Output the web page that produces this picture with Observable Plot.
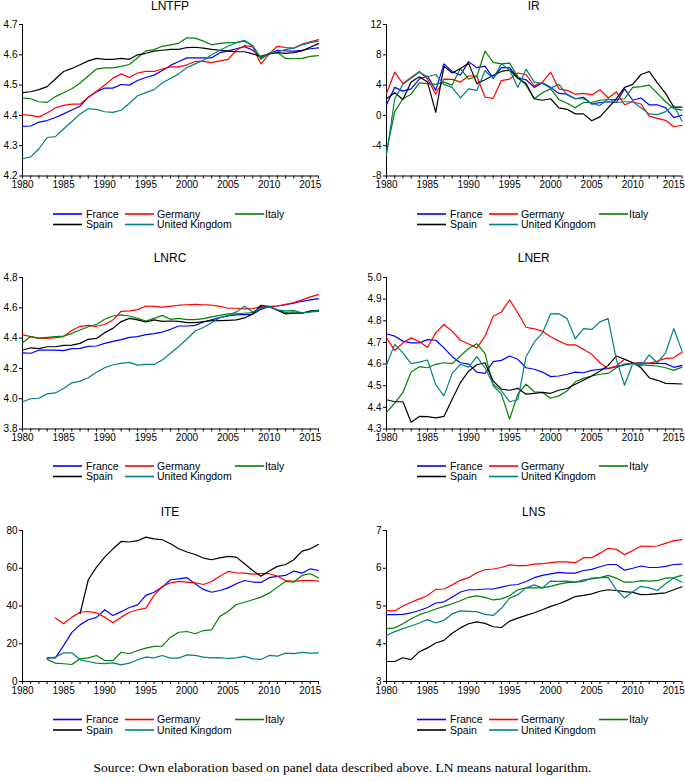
<!DOCTYPE html>
<html><head><meta charset="utf-8">
<script src="https://cdn.jsdelivr.net/npm/d3@7"></script>
<script src="https://cdn.jsdelivr.net/npm/@observablehq/plot@0.6"></script>
<style>
html,body{margin:0;padding:0;background:#fff;}
#root{position:relative;width:685px;height:782px;overflow:hidden;font-family:"Liberation Sans",Arial,sans-serif;color:#000;}
.title{position:absolute;font-size:12px;line-height:12px;text-align:center;width:200px;white-space:nowrap;}
.caption{position:absolute;left:0;width:685px;text-align:center;top:760px;font-family:"Liberation Serif","DejaVu Serif",serif;font-size:13.5px;line-height:16px;}
.panel{position:absolute;}
.panel svg{overflow:visible;}
#legend{position:absolute;left:0;top:0;}
</style></head><body><div id="root"></div><script>
const years = d3.range(1980, 2017);
const countries = ["France", "Germany", "Italy", "Spain", "United Kingdom"];
const colors = ["#0000ff", "#ff0000", "#008000", "#000000", "#008080"];

// LNTFP
const lntfpFrance  = [4.364,4.365,4.378,4.383,4.393,4.405,4.418,4.430,4.460,4.478, 4.490,4.490,4.502,4.500,4.515,4.525,4.533,4.548,4.565,4.578, 4.590,4.590,4.590,4.590,4.607,4.613,4.620,4.627,4.615,4.592, 4.603,4.615,4.613,4.612,4.615,4.620,4.623];
const lntfpGermany = [4.403,4.400,4.395,4.408,4.425,4.433,4.437,4.437,4.460,4.480, 4.500,4.523,4.537,4.525,4.540,4.545,4.545,4.553,4.560,4.560, 4.567,4.578,4.578,4.574,4.580,4.585,4.615,4.630,4.627,4.570, 4.603,4.628,4.624,4.622,4.635,4.643,4.650];
const lntfpItaly   = [4.458,4.455,4.445,4.443,4.462,4.475,4.488,4.507,4.530,4.553, 4.557,4.557,4.562,4.568,4.590,4.613,4.617,4.628,4.633,4.638, 4.656,4.655,4.645,4.633,4.638,4.640,4.640,4.645,4.630,4.585, 4.605,4.608,4.588,4.587,4.588,4.595,4.597];
const lntfpSpain   = [4.475,4.478,4.485,4.495,4.520,4.545,4.555,4.567,4.580,4.588, 4.585,4.585,4.588,4.585,4.600,4.605,4.612,4.615,4.618,4.618, 4.624,4.625,4.622,4.618,4.615,4.612,4.610,4.610,4.603,4.595, 4.603,4.607,4.605,4.607,4.613,4.625,4.637];
const lntfpUK      = [4.257,4.263,4.290,4.327,4.330,4.355,4.380,4.405,4.422,4.420, 4.412,4.410,4.417,4.440,4.465,4.475,4.485,4.507,4.522,4.537, 4.558,4.570,4.582,4.600,4.615,4.628,4.640,4.648,4.630,4.590, 4.605,4.610,4.617,4.622,4.633,4.640,4.645];

// IR
const irFrance  = [1.4,3.7,3.2,3.5,4.8,5.2,3.3,6.8,5.8,5.3, 7.1,6.3,6.5,4.9,6.3,6.3,5.0,4.7,3.7,4.3, 3.7,2.9,2.8,2.2,2.4,1.5,1.7,1.8,1.7,3.5, 2.0,2.3,1.4,1.4,1.0,-0.3,0.05];
const irGermany = [2.9,5.7,4.2,5.0,5.8,4.8,2.8,4.8,4.75,4.4, 5.2,5.2,2.4,2.25,4.6,4.8,5.6,5.4,3.9,4.4, 5.7,3.5,3.3,2.8,2.9,2.7,3.4,2.3,3.1,1.4, 1.8,1.5,-0.1,-0.4,-0.65,-1.5,-1.3];
const irItaly   = [-4.8,0.5,2.2,2.8,4.3,4.2,4.1,4.4,4.0,6.2, 4.8,5.1,8.5,7.0,6.8,6.9,5.1,4.0,2.2,3.0, 3.5,2.1,1.6,1.0,1.7,1.7,2.0,2.1,2.1,2.2, 3.7,3.8,4.0,2.9,1.8,0.9,0.7];
const irSpain   = [2.2,3.0,2.1,4.4,5.1,4.4,0.4,6.5,5.6,6.2, 6.9,4.2,4.7,5.3,5.8,6.0,4.9,4.2,2.2,2.0, 2.2,1.0,0.8,0.2,0.2,-0.7,-0.2,1.0,2.2,3.7, 4.1,5.4,5.8,4.3,2.9,1.1,1.1];
const irUK      = [-5.2,2.2,4.1,4.9,5.7,5.1,5.4,4.1,3.7,2.3, 3.5,3.3,5.9,4.9,6.8,6.0,3.7,6.1,4.4,4.2, 3.6,4.1,2.7,2.2,2.2,1.6,1.3,2.2,1.7,1.8, 1.8,1.0,0.2,0.1,0.5,1.3,-0.75];

// LNRC
const lnrcFrance  = [4.303,4.300,4.320,4.320,4.320,4.317,4.330,4.332,4.345,4.348, 4.365,4.378,4.390,4.405,4.410,4.423,4.430,4.440,4.458,4.480, 4.480,4.484,4.506,4.520,4.535,4.546,4.553,4.555,4.557,4.590, 4.608,4.612,4.620,4.630,4.643,4.652,4.660];
const lnrcGermany = [4.423,4.410,4.398,4.398,4.403,4.410,4.450,4.478,4.484,4.478, 4.490,4.520,4.577,4.580,4.588,4.612,4.610,4.604,4.610,4.617, 4.620,4.623,4.620,4.617,4.610,4.597,4.597,4.593,4.595,4.608, 4.608,4.612,4.623,4.634,4.652,4.672,4.687];
const lnrcItaly   = [4.370,4.410,4.400,4.405,4.410,4.414,4.430,4.453,4.475,4.490, 4.524,4.546,4.553,4.546,4.530,4.513,4.530,4.550,4.524,4.530, 4.522,4.522,4.528,4.540,4.550,4.560,4.560,4.564,4.568,4.600, 4.612,4.584,4.570,4.573,4.566,4.573,4.577];
const lnrcSpain   = [4.320,4.336,4.330,4.343,4.343,4.352,4.354,4.365,4.392,4.398, 4.436,4.464,4.509,4.530,4.520,4.506,4.520,4.510,4.513,4.510, 4.502,4.502,4.509,4.515,4.515,4.517,4.520,4.533,4.560,4.617, 4.608,4.584,4.560,4.564,4.564,4.580,4.584];
const lnrcUK      = [3.980,4.000,4.003,4.032,4.038,4.067,4.105,4.116,4.138,4.175, 4.204,4.224,4.233,4.240,4.222,4.226,4.226,4.255,4.300,4.345, 4.394,4.447,4.470,4.502,4.535,4.550,4.573,4.610,4.573,4.597, 4.608,4.586,4.580,4.584,4.566,4.573,4.584];

// LNER
const lnerFrance  = [4.740,4.729,4.706,4.698,4.698,4.713,4.710,4.675,4.634,4.606, 4.600,4.563,4.557,4.611,4.617,4.637,4.622,4.583,4.576,4.563, 4.542,4.545,4.553,4.563,4.560,4.571,4.576,4.579,4.588,4.596, 4.603,4.606,4.603,4.603,4.602,4.585,4.594];
const lnerGermany = [4.721,4.663,4.698,4.721,4.703,4.678,4.744,4.783,4.752,4.710, 4.694,4.674,4.729,4.821,4.841,4.897,4.836,4.770,4.763,4.752, 4.726,4.706,4.689,4.689,4.668,4.645,4.606,4.579,4.591,4.622, 4.606,4.603,4.603,4.614,4.626,4.629,4.655];
const lnerItaly   = [4.377,4.420,4.469,4.563,4.588,4.583,4.599,4.606,4.602,4.637, 4.672,4.694,4.649,4.499,4.461,4.346,4.461,4.507,4.472,4.469, 4.442,4.453,4.476,4.518,4.534,4.545,4.553,4.557,4.583,4.600, 4.603,4.596,4.594,4.591,4.583,4.571,4.586];
const lnerSpain   = [4.435,4.426,4.426,4.331,4.358,4.357,4.351,4.358,4.438,4.514, 4.567,4.597,4.606,4.522,4.484,4.479,4.488,4.461,4.465,4.469, 4.465,4.479,4.487,4.507,4.525,4.545,4.568,4.594,4.637,4.622, 4.606,4.583,4.537,4.525,4.511,4.510,4.508];
const lnerUK      = [4.596,4.691,4.652,4.602,4.609,4.619,4.504,4.453,4.557,4.599, 4.586,4.634,4.583,4.507,4.476,4.426,4.435,4.634,4.701,4.744, 4.832,4.833,4.810,4.717,4.764,4.760,4.795,4.810,4.622,4.502, 4.603,4.591,4.642,4.606,4.652,4.764,4.660];

// ITE (null = no data)
const iteFrance  = [null,null,null,12.5,12.5,19,26,30,32.7,34, 38,35,37,39.2,40.6,45.6,47.3,50,53.9,54.4, 55,51.8,48.8,47.3,48.2,49.6,51.8,53.5,52.7,52.5, 55,55.7,56.2,58.5,57.4,59.7,58.8];
const iteGermany = [null,null,null,null,33.7,30.6,34.1,36.7,37.1,36.4, 34.1,31.1,34.1,36.7,38,38.9,45.6,50.4,52.3,53, 52.7,52.3,51.4,53,55.8,58.3,57.6,57.4,56.9,57.1, 57.1,55.8,53.5,53,53.4,53.5,53.2];
const iteItaly   = [null,null,null,11.7,9.7,9.4,9.0,12,12.5,13.8, 11.1,11.1,15.5,14.7,16.4,17.7,18.6,18.7,23.5,26.1, 26.5,25.3,27,27.4,34.5,37.1,40.8,42,43.3,44.7, 46.8,50,53,52.7,56.2,57.1,54.8];
const iteSpain   = [null,null,null,null,null,null,null,35.9,53.9,60.6, 65.9,70.3,74.2,73.9,74.6,76.5,75.6,75.1,73,70.3, 68.6,67.3,65.4,64.5,65.5,66.3,65.9,62.4,58.8,55.8, 58.5,61,62,64.5,69.1,70.3,72.6];
const iteUK      = [null,null,null,12.4,12.9,15.2,15.2,11.5,10.6,9.7, 9.5,9.9,8.8,9.7,11.5,12.9,12.5,13.8,12.4,12.4, 14.1,13.8,12.9,12.5,12.7,12.2,12.5,13.3,12,11.7, 13.8,13.4,15,14.8,15.4,15,15.2];

// LNS
const lnsFrance  = [4.77,4.77,4.78,4.82,4.88,4.96,5.08,5.11,5.23,5.37, 5.43,5.43,5.45,5.45,5.50,5.55,5.57,5.65,5.75,5.81, 5.85,5.89,5.87,5.87,5.94,5.97,6.04,6.10,6.10,5.95, 6.00,6.06,6.02,6.02,6.05,6.10,6.11];
const lnsGermany = [4.88,4.87,5.00,5.10,5.19,5.28,5.44,5.45,5.56,5.68, 5.75,5.88,5.96,5.98,6.02,6.09,6.07,6.07,6.11,6.12, 6.15,6.17,6.17,6.14,6.28,6.28,6.40,6.53,6.50,6.36, 6.47,6.59,6.58,6.59,6.66,6.73,6.76];
const lnsItaly   = [4.40,4.42,4.53,4.66,4.77,4.84,4.92,4.99,5.06,5.14, 5.23,5.27,5.23,5.16,5.19,5.27,5.43,5.48,5.48,5.48, 5.52,5.58,5.62,5.63,5.69,5.72,5.75,5.81,5.74,5.63, 5.63,5.67,5.66,5.67,5.74,5.75,5.81];
const lnsSpain   = [3.53,3.53,3.63,3.58,3.79,3.89,4.02,4.09,4.28,4.42, 4.53,4.58,4.54,4.45,4.43,4.60,4.68,4.75,4.82,4.90, 4.99,5.06,5.15,5.25,5.28,5.32,5.39,5.43,5.41,5.38, 5.36,5.30,5.31,5.33,5.35,5.43,5.51];
const lnsUK      = [4.22,4.32,4.40,4.47,4.55,4.64,4.55,4.62,4.79,4.87, 4.86,4.85,4.78,4.75,4.94,5.21,5.30,5.48,5.56,5.48, 5.66,5.65,5.66,5.63,5.65,5.74,5.75,5.76,5.43,5.21, 5.38,5.52,5.48,5.41,5.59,5.74,5.63];

// tick values and labels
const lntfpTicks = [4.2, 4.3, 4.4, 4.5, 4.6, 4.7];
const irTicks = [-8, -4, 0, 4, 8, 12];
const lnrcTicks = [3.8, 4.0, 4.2, 4.4, 4.6, 4.8];
const lnerTicks = [4.3, 4.4, 4.5, 4.6, 4.7, 4.8, 4.9, 5.0];
const iteTicks = [0, 20, 40, 60, 80];
const lnsTicks = [3, 4, 5, 6, 7];
const titles = ["LNTFP", "IR", "LNRC", "LNER", "ITE", "LNS"];
const captionText = "Source: Own elaboration based on panel data described above. LN means natural logarithm.";

const panels = [
  {title: titles[0], series: [lntfpFrance, lntfpGermany, lntfpItaly, lntfpSpain, lntfpUK], ticks: lntfpTicks, fmt: d3.format(".1f"), col: 0, row: 0},
  {title: titles[1], series: [irFrance, irGermany, irItaly, irSpain, irUK], ticks: irTicks, fmt: d => String(d), col: 1, row: 0},
  {title: titles[2], series: [lnrcFrance, lnrcGermany, lnrcItaly, lnrcSpain, lnrcUK], ticks: lnrcTicks, fmt: d3.format(".1f"), col: 0, row: 1},
  {title: titles[3], series: [lnerFrance, lnerGermany, lnerItaly, lnerSpain, lnerUK], ticks: lnerTicks, fmt: d3.format(".1f"), col: 1, row: 1},
  {title: titles[4], series: [iteFrance, iteGermany, iteItaly, iteSpain, iteUK], ticks: iteTicks, fmt: d => String(d), col: 0, row: 2},
  {title: titles[5], series: [lnsFrance, lnsGermany, lnsItaly, lnsSpain, lnsUK], ticks: lnsTicks, fmt: d => String(d), col: 1, row: 2}
];

// layout
const colLayout = [{left: 0, width: 342, mL: 22, mR: 24}, {left: 342, width: 343, mL: 44, mR: 3.5}];
const rowLayout = [{top: 23.5, bottom: 175, titleY: 6, lg: [214, 224.5]},
                   {top: 276.5, bottom: 428, titleY: 258, lg: [466, 476.5]},
                   {top: 530, bottom: 681, titleY: 512, lg: [719.5, 730]}];
const mT = 10, mB = 22;
const root = document.getElementById("root");

function el(cls, style, text) {
  const d = document.createElement("div");
  d.className = cls;
  Object.assign(d.style, style);
  if (text != null) d.textContent = text;
  root.appendChild(d);
  return d;
}

const legendSvg = d3.create("svg").attr("id", "legend").attr("width", 685).attr("height", 782)
  .style("font-family", "'Liberation Sans', Arial, sans-serif").style("font-size", "10.5px");

panels.forEach(p => {
  const c = colLayout[p.col], r = rowLayout[p.row];
  const h = (r.bottom - r.top) + mT + mB;
  const data = [];
  countries.forEach((name, i) => p.series[i].forEach((v, j) => data.push({country: name, year: years[j], value: v})));
  const dom = [p.ticks[0], p.ticks[p.ticks.length - 1]];
  const chart = Plot.plot({
    width: c.width, height: h,
    marginLeft: c.mL, marginRight: c.mR, marginTop: mT, marginBottom: mB,
    style: {fontFamily: "'Liberation Sans', Arial, sans-serif", fontSize: "10px", background: "transparent", color: "#000"},
    x: {domain: [1980, 2016], label: null},
    y: {domain: dom, label: null},
    color: {domain: countries, range: colors},
    marks: [
      Plot.ruleY([dom[0]], {stroke: "#000", strokeWidth: 1}),
      Plot.ruleX([1980], {stroke: "#000", strokeWidth: 1}),
      Plot.axisX({ticks: years, tickSize: 3, tickPadding: 2, tickFormat: d => d % 5 === 0 ? String(d) : "", label: null}),
      Plot.axisY({ticks: p.ticks, tickSize: 3, tickPadding: 2, tickFormat: p.fmt, label: null}),
      Plot.line(data, {x: "year", y: "value", z: "country", stroke: "country", strokeWidth: 1.2})
    ]
  });
  const wrap = el("panel", {left: c.left + "px", top: (r.top - mT) + "px"});
  wrap.appendChild(chart);

  const x0 = c.left + c.mL;
  const cx = x0 + (c.width - c.mL - c.mR) / 2;
  el("title", {left: (cx - 100) + "px", top: (r.titleY - 6) + "px"}, p.title);

  // legend: 3 columns, 2 rows
  const slots = [[31, 64], [103, 135], [213, 243]];
  countries.forEach((name, i) => {
    const rowI = i < 3 ? 0 : 1, colI = i < 3 ? i : i - 3;
    const y = r.lg[rowI];
    legendSvg.append("line")
      .attr("x1", x0 + slots[colI][0]).attr("x2", x0 + slots[colI][0] + 29)
      .attr("y1", y).attr("y2", y)
      .attr("stroke", colors[i]).attr("stroke-width", 1.6);
    legendSvg.append("text")
      .attr("x", x0 + slots[colI][1]).attr("y", y + 3.8)
      .attr("fill", "#000")
      .text(name);
  });
});

root.appendChild(legendSvg.node());
el("caption", {}, captionText);
</script></body></html>
